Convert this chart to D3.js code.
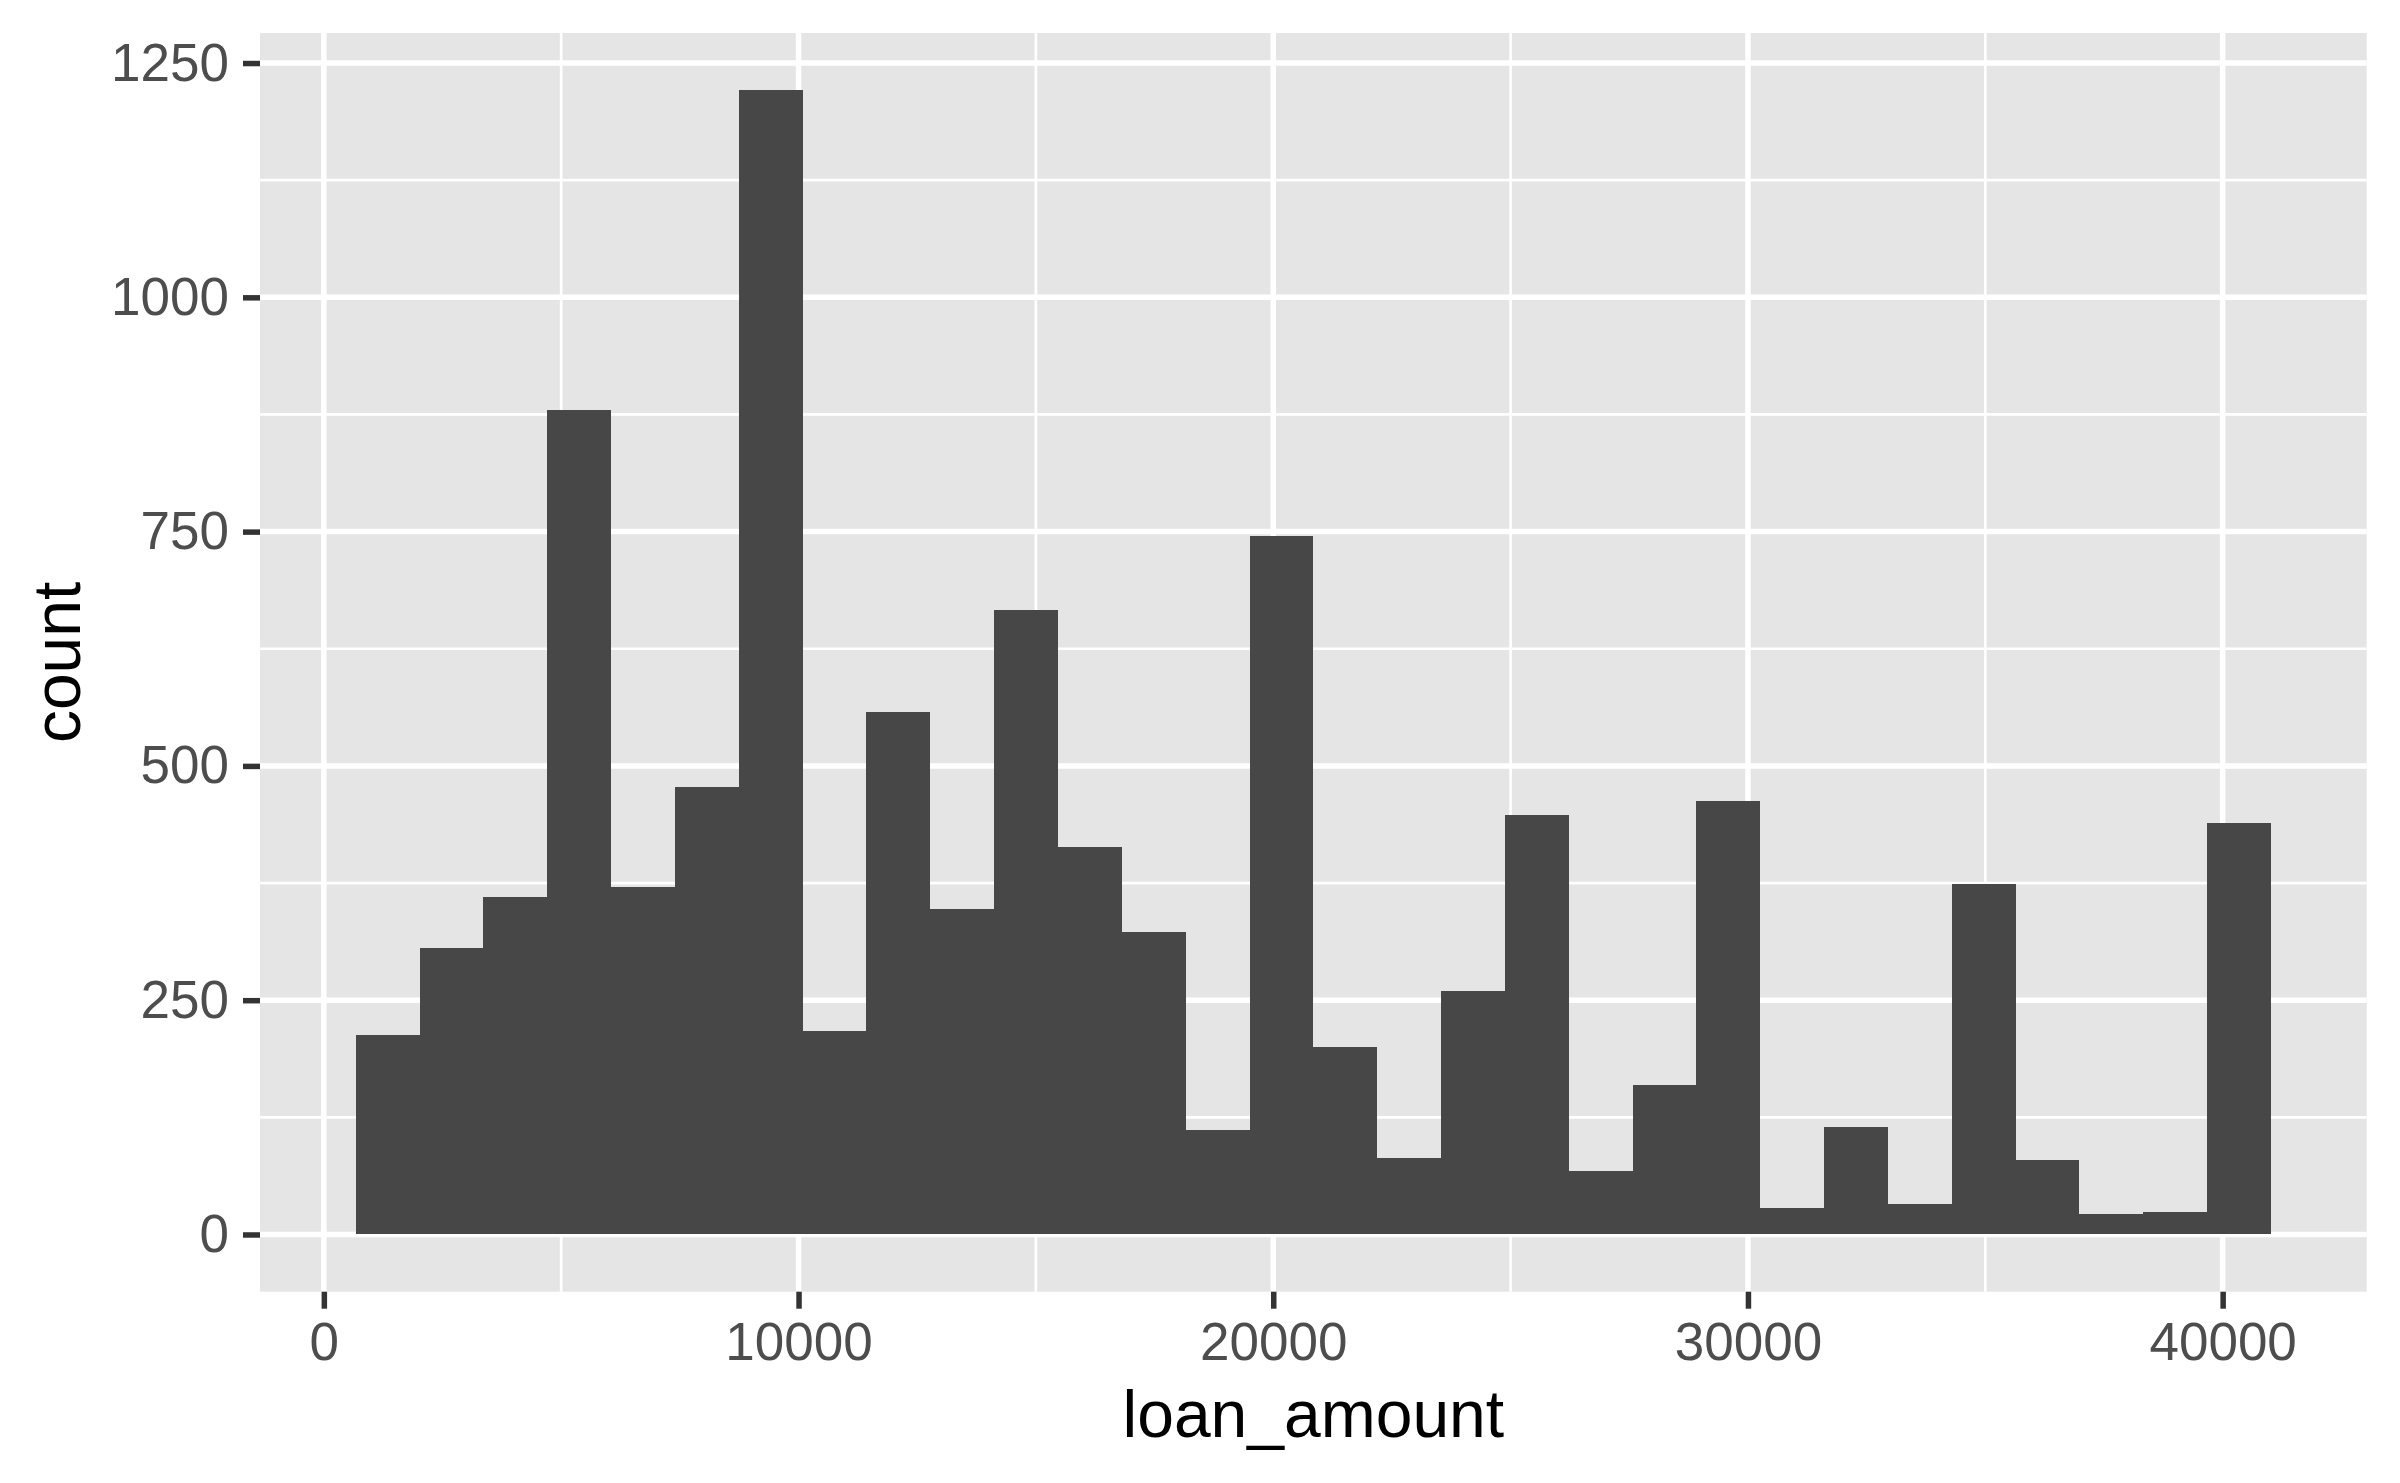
<!DOCTYPE html>
<html>
<head>
<meta charset="utf-8">
<script src="https://cdn.jsdelivr.net/npm/d3@7"></script>
<style>
  html, body { margin: 0; padding: 0; background: #ffffff; }
  svg { display: block; }
</style>
</head>
<body>
<script>
// Histogram bin edges (loan_amount), 30 bins
const binEdges = [672.41, 2017.24, 3362.07, 4706.90, 6051.72, 7396.55, 8741.38, 10086.21,
  11431.03, 12775.86, 14120.69, 15465.52, 16810.34, 18155.17, 19500.00, 20844.83,
  22189.66, 23534.48, 24879.31, 26224.14, 27568.97, 28913.79, 30258.62, 31603.45,
  32948.28, 34293.10, 35637.93, 36982.76, 38327.59, 39672.41, 41017.24];
// Counts per bin
const counts = [213, 306, 360, 880, 371, 477, 1221, 217, 558, 347, 666, 413, 323, 112, 745,
  200, 82, 260, 448, 68, 160, 463, 28, 115, 33, 374, 80, 22, 24, 439];
const xTicks = [0, 10000, 20000, 30000, 40000];
const xMinor = [5000, 15000, 25000, 35000];
const yTicks = [0, 250, 500, 750, 1000, 1250];
const yMinor = [125, 375, 625, 875, 1125];
const xLabel = "loan_amount";
const yLabel = "count";

const W = 2400, H = 1483;
const panel = { left: 260, right: 2366.7, top: 33, bottom: 1291.7 };
const font = "'Liberation Sans', Arial, Helvetica, sans-serif";

const bins = counts.map((c, i) => ({ x0: binEdges[i], x1: binEdges[i + 1], n: c }));

const xLo = binEdges[0], xHi = binEdges[binEdges.length - 1];
const xPad = (xHi - xLo) * 0.05;
const x = d3.scaleLinear().domain([xLo - xPad, xHi + xPad]).range([panel.left, panel.right]);
const yMax = d3.max(counts);
const yPad = yMax * 0.05;
const y = d3.scaleLinear().domain([-yPad, yMax + yPad]).range([panel.bottom, panel.top]);

const svg = d3.select("body").append("svg").attr("width", W).attr("height", H);
svg.append("rect").attr("width", W).attr("height", H).attr("fill", "#ffffff");

// panel background
svg.append("rect")
  .attr("x", panel.left).attr("y", panel.top)
  .attr("width", panel.right - panel.left).attr("height", panel.bottom - panel.top)
  .attr("fill", "#E5E5E5");

const grid = svg.append("g");
// minor gridlines
grid.selectAll("line.ymin").data(yMinor).join("line")
  .attr("x1", panel.left).attr("x2", panel.right)
  .attr("y1", d => y(d)).attr("y2", d => y(d))
  .attr("stroke", "#ffffff").attr("stroke-width", 2.7);
grid.selectAll("line.xmin").data(xMinor).join("line")
  .attr("y1", panel.top).attr("y2", panel.bottom)
  .attr("x1", d => x(d)).attr("x2", d => x(d))
  .attr("stroke", "#ffffff").attr("stroke-width", 2.7);
// major gridlines
grid.selectAll("line.ymaj").data(yTicks).join("line")
  .attr("x1", panel.left).attr("x2", panel.right)
  .attr("y1", d => y(d)).attr("y2", d => y(d))
  .attr("stroke", "#ffffff").attr("stroke-width", 5.5);
grid.selectAll("line.xmaj").data(xTicks).join("line")
  .attr("y1", panel.top).attr("y2", panel.bottom)
  .attr("x1", d => x(d)).attr("x2", d => x(d))
  .attr("stroke", "#ffffff").attr("stroke-width", 5.5);

// bars
svg.append("g").selectAll("rect").data(bins).join("rect")
  .attr("x", d => x(d.x0))
  .attr("width", d => x(d.x1) - x(d.x0))
  .attr("y", d => y(d.n))
  .attr("height", d => y(0) - y(d.n))
  .attr("fill", "#474747")
  .attr("shape-rendering", "crispEdges");

// axes
const xAxis = d3.axisBottom(x).tickValues(xTicks).tickSize(17).tickPadding(14)
  .tickFormat(d3.format("d"));
const gx = svg.append("g").attr("transform", `translate(0,${panel.bottom})`).call(xAxis);
gx.select(".domain").remove();
gx.selectAll(".tick line").attr("stroke", "#333333").attr("stroke-width", 5.5);
gx.selectAll(".tick text").attr("fill", "#4D4D4D").style("font-family", font).style("font-size", "53px");

const yAxis = d3.axisLeft(y).tickValues(yTicks).tickSize(17).tickPadding(14)
  .tickFormat(d3.format("d"));
const gy = svg.append("g").attr("transform", `translate(${panel.left},0)`).call(yAxis);
gy.select(".domain").remove();
gy.selectAll(".tick line").attr("stroke", "#333333").attr("stroke-width", 5.5);
gy.selectAll(".tick text").attr("fill", "#4D4D4D").style("font-family", font).style("font-size", "53px");

// axis titles
svg.append("text")
  .attr("x", (panel.left + panel.right) / 2).attr("y", 1437)
  .attr("text-anchor", "middle")
  .style("font-family", font).style("font-size", "66px").attr("fill", "#000000")
  .text(xLabel);
svg.append("text")
  .attr("transform", `translate(80,${(panel.top + panel.bottom) / 2}) rotate(-90)`)
  .attr("text-anchor", "middle")
  .style("font-family", font).style("font-size", "66px").attr("fill", "#000000")
  .text(yLabel);
</script>
</body>
</html>
